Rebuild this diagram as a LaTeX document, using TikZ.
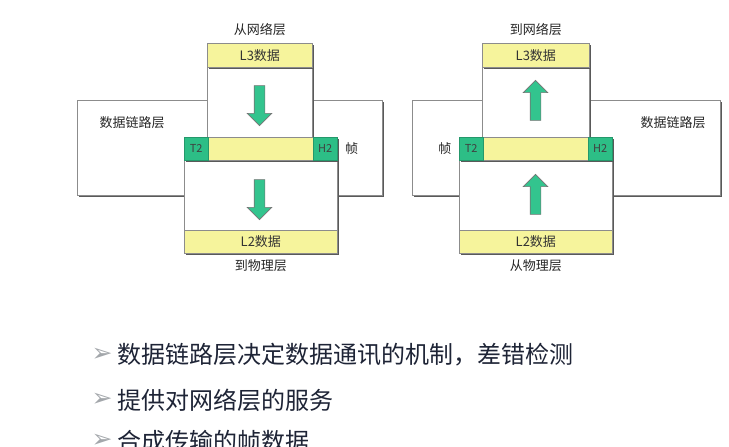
\documentclass[tikz,border=0pt]{standalone}
\usepackage{fontspec}
\newfontfamily\cjk{Noto Sans CJK SC}
\newfontfamily\symfont{DejaVu Sans}
\usetikzlibrary{positioning,shapes.arrows,shadows}
\definecolor{BarYellow}{HTML}{F6F49C}
\definecolor{TagGreen}{HTML}{2DBE86}
\definecolor{ArrowGreen}{HTML}{33C48E}
\definecolor{BoxLine}{HTML}{8C8C8C}
\definecolor{BulletText}{HTML}{1E2436}
\definecolor{BulletMark}{HTML}{A3A7AB}

\begin{document}
\begin{tikzpicture}[x=1pt,y=-1pt,
  layerbox/.style={draw=BoxLine,line width=0.7pt,fill=white,anchor=north west,inner sep=0pt,
    drop shadow={shadow xshift=1.2pt,shadow yshift=-1.2pt,fill=black!65,opacity=1}},
  databar/.style={layerbox,fill=BarYellow,font=\cjk\fontsize{13}{15}\selectfont,text=black!80},
  tag/.style={draw=TagGreen!80!black,line width=0.5pt,fill=TagGreen,anchor=north west,inner sep=0pt,
    minimum width=24pt,minimum height=23pt,font=\cjk\fontsize{11}{13}\selectfont,text=black!75},
  flowarrow/.style={single arrow,draw=black!55,line width=0.6pt,fill=ArrowGreen,inner sep=5pt,
    minimum height=40pt,minimum width=24pt,single arrow head extend=7pt,single arrow tip angle=90},
  lbl/.style={font=\cjk\fontsize{13}{15}\selectfont,text=black!85},
  point/.style={anchor=west,font=\cjk\fontsize{24}{28}\selectfont,text=BulletText},
  bulletmark/.style={anchor=west,font=\symfont\fontsize{25}{28}\selectfont,text=BulletMark}
]
\path[use as bounding box] (0,0) rectangle (729,447);
\clip (0,0) rectangle (729,447);
\fill[white] (0,0) rectangle (729,447);

% left side: sending
\node[layerbox,minimum width=305pt,minimum height=95pt] (linkL) at (77,100) {};
\node[layerbox,minimum width=105pt,minimum height=94pt] (upL) at (207,43) {};
\node[layerbox,minimum width=153pt,minimum height=93pt] (lowL) at (184,160) {};
\node[databar,minimum width=105pt,minimum height=24pt] (l3L) at (207,43) {L3数据};
\node[databar,minimum width=153pt,minimum height=23pt] (frameL) at (184,137) {};
\node[tag] (t2L) at (184,137) {T2};
\node[tag] (h2L) at (313,137) {H2};
\node[databar,minimum width=153pt,minimum height=23pt] (l2L) at (184,230) {L2数据};
\node[flowarrow,shape border rotate=270] (arrL1) at (259.5,103) {};
\node[flowarrow,shape border rotate=270] (arrL2) at (259.5,197) {};
\node[lbl,above=4pt of l3L] (fromNet) {从网络层};
\node[lbl,below=2pt of l2L] (toPhy) {到物理层};
\node[lbl] (linkNameL) at (132,123) {数据链路层};
\node[lbl,right=4pt of h2L] (frameNameL) {帧};

% right side: receiving
\node[layerbox,minimum width=308pt,minimum height=95pt] (linkR) at (412,100) {};
\node[layerbox,minimum width=107pt,minimum height=94pt] (upR) at (482,43) {};
\node[layerbox,minimum width=153pt,minimum height=93pt] (lowR) at (459,160) {};
\node[databar,minimum width=107pt,minimum height=24pt] (l3R) at (482,43) {L3数据};
\node[databar,minimum width=153pt,minimum height=23pt] (frameR) at (459,137) {};
\node[tag] (t2R) at (459,137) {T2};
\node[tag] (h2R) at (588,137) {H2};
\node[databar,minimum width=153pt,minimum height=23pt] (l2R) at (459,230) {L2数据};
\node[flowarrow,shape border rotate=90] (arrR1) at (535.5,103) {};
\node[flowarrow,shape border rotate=90] (arrR2) at (535.5,197) {};
\node[lbl,above=4pt of l3R] (toNet) {到网络层};
\node[lbl,below=2pt of l2R] (fromPhy) {从物理层};
\node[lbl] (linkNameR) at (673,123) {数据链路层};
\node[lbl,left=4pt of t2R] (frameNameR) {帧};

% bullet points
\node[bulletmark] (m1) at (88,355) {➢};
\node[point] (p1) at (114,355) {数据链路层决定数据通讯的机制，差错检测};
\node[bulletmark] (m2) at (88,400) {➢};
\node[point] (p2) at (114,400) {提供对网络层的服务};
\node[bulletmark] (m3) at (88,441) {➢};
\node[point] (p3) at (114,441) {合成传输的帧数据};
\end{tikzpicture}
\end{document}
